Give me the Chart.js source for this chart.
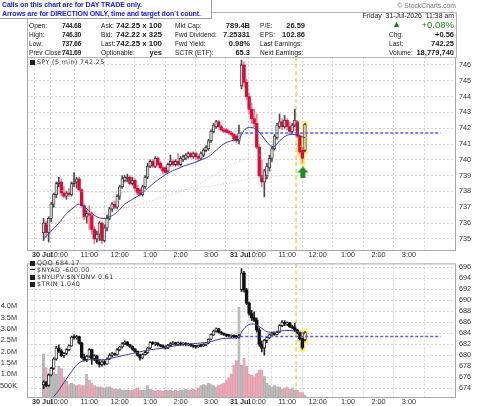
<!DOCTYPE html>
<html>
<head>
<meta charset="utf-8">
<script src="https://cdn.jsdelivr.net/npm/chart.js@4.4.1/dist/chart.umd.min.js"></script>
<style>
body { margin: 0; width: 480px; height: 406px; overflow: hidden; background: #fff; position: relative;
       font-family: "Liberation Sans", Arial, sans-serif; }
canvas { position: absolute; left: 0; }
#topChart { top: 0; }
#botChart { top: 256px; }
.t { position: absolute; font-size: 6.6px; line-height: 9px; color: #222; white-space: nowrap; z-index: 3; }
.v { font-weight: bold; font-size: 7.5px; }
.s { font-size: 6.8px; letter-spacing: -0.3px; }
.w { font-size: 7.9px; }
.r { text-align: right; }
#box { position: absolute; left: 27px; top: 12px; width: 428px; height: 44px; border: 1px solid #b4b4b4; z-index: 1; }
#calls { position: absolute; left: 0; top: 0; width: 209px; height: 18px; background: #fff; border-right: 1px solid #9a9aa8;
         border-bottom: 1px solid #9a9aa8; z-index: 4; color: #1818e6; font-weight: bold; font-size: 7px; line-height: 9px;
         letter-spacing: -0.1px; padding-left: 2px; white-space: nowrap; overflow: hidden; }
.leg { position: absolute; left: 30px; font-family: "DejaVu Sans", sans-serif; font-size: 6.3px; line-height: 7px;
       color: #333; letter-spacing: 0.4px; z-index: 3; white-space: nowrap; }
.ic { display: inline-block; width: 5px; height: 5px; background: #222; margin-right: 2px; vertical-align: -0.5px; }
.ln { display: inline-block; width: 5px; height: 1.5px; background: #222; margin-right: 2px; vertical-align: 2px; }
</style>
</head>
<body>
<div id="calls">Calls on this chart are for DAY TRADE only.<br>Arrows are for DIRECTION ONLY, time and target don`t count.</div>
<div id="box"></div>
<div class="t" style="right:24px;top:1px;font-size:6.8px;color:#777">© StockCharts.com</div>
<div class="t r" style="right:26px;top:11px;font-size:6.9px">Friday&nbsp; 31-Jul-2026&nbsp; 11:38 am</div>

<div class="t" style="left:29px;top:21px">Open:</div><div class="t v s r" style="right:399px;top:21px">744.68</div>
<div class="t" style="left:29px;top:30px">High:</div><div class="t v s r" style="right:399px;top:30px">746.30</div>
<div class="t" style="left:29px;top:39px">Low:</div><div class="t v s r" style="right:399px;top:39px">737.66</div>
<div class="t" style="left:29px;top:48px">Prev Close:</div><div class="t v s r" style="right:399px;top:48px">741.69</div>

<div class="t" style="left:101px;top:21px">Ask:</div><div class="t v w r" style="right:318px;top:21px">742.25 x 100</div>
<div class="t" style="left:101px;top:30px">Bid:</div><div class="t v w r" style="right:318px;top:30px">742.22 x 325</div>
<div class="t" style="left:101px;top:39px">Last:</div><div class="t v w r" style="right:318px;top:39px">742.25 x 100</div>
<div class="t" style="left:101px;top:48px">Optionable:</div><div class="t v r" style="right:318px;top:48px">yes</div>

<div class="t" style="left:175px;top:21px">Mkt Cap:</div><div class="t v r" style="right:230px;top:21px">789.4B</div>
<div class="t" style="left:175px;top:30px">Fwd Dividend:</div><div class="t v r" style="right:230px;top:30px">7.25331</div>
<div class="t" style="left:175px;top:39px">Fwd Yield:</div><div class="t v r" style="right:230px;top:39px">0.98%</div>
<div class="t" style="left:175px;top:48px">SCTR (ETF):</div><div class="t v r" style="right:230px;top:48px">65.3</div>

<div class="t" style="left:260px;top:21px">P/E:</div><div class="t v r" style="right:175px;top:21px">26.59</div>
<div class="t" style="left:260px;top:30px">EPS:</div><div class="t v r" style="right:175px;top:30px">102.86</div>
<div class="t" style="left:260px;top:39px">Last Earnings:</div>
<div class="t" style="left:260px;top:48px">Next Earnings:</div>

<div class="t" style="left:392px;top:20px;color:#1a7a1a;font-size:9px">▲</div>
<div class="t r" style="right:26px;top:20px;color:#1a8a1a;font-size:9.5px;line-height:10px">+0.08%</div>
<div class="t" style="left:389px;top:30px">Chg:</div><div class="t v r" style="right:26px;top:30px">+0.56</div>
<div class="t" style="left:389px;top:39px">Last:</div><div class="t v r" style="right:26px;top:39px">742.25</div>
<div class="t" style="left:389px;top:48px">Volume:</div><div class="t v r" style="right:26px;top:48px">18,779,740</div>

<div class="leg" style="top:58px"><span class="ic"></span>SPY (5 min) 742.25</div>
<div class="leg" style="top:259px"><span class="ic"></span>QQQ 684.17</div>
<div class="leg" style="top:266px"><span class="ln"></span>$NYAD -600.00</div>
<div class="leg" style="top:273px"><span class="ic"></span>$NYUPV:$NYDNV 0.61</div>
<div class="leg" style="top:280px"><span class="ic"></span>$TRIN 1.040</div>

<canvas id="topChart" width="480" height="262"></canvas>
<canvas id="botChart" width="480" height="150"></canvas>

<script>
// 5-minute bars, 30 Jul 9:30 .. 31 Jul 11:35 (bar index 0 = 30 Jul 9:30, 78 = 31 Jul 9:30)
const spyOpen = [735.4,736.0,735.4,736.3,737.2,737.8,738.5,738.6,737.9,737.7,
  737.9,737.8,738.5,738.6,738.8,738.1,737.1,736.4,736.6,736.5,
  735.6,735.0,735.3,736.0,734.9,735.7,736.3,736.9,737.2,737.0,
  737.7,738.3,738.7,738.8,738.9,738.5,738.7,738.2,738.1,737.8,
  738.3,738.9,739.6,739.9,739.6,740.1,739.8,739.5,739.5,739.3,
  739.7,739.9,739.7,739.9,739.7,740.0,740.1,740.2,740.4,740.2,
  740.4,740.2,740.1,740.3,740.6,740.7,741.2,741.8,742.1,742.4,
  742.1,741.9,741.9,741.8,741.7,741.6,741.5,741.2,
  744.68,746.0,744.9,744.0,743.2,742.6,742.3,740.8,739.0,738.6,
  739.0,739.5,740.1,740.7,741.4,742.1,742.4,742.1,742.5,742.1,
  741.8,742.2,742.4,741.5,740.6,740.6];
const spyHigh = [736.3,736.1,736.4,737.3,737.9,738.6,738.9,738.8,738.3,738.0,
  738.2,738.6,739.2,738.9,738.9,738.2,737.2,736.8,737.1,736.7,
  735.8,735.5,736.1,736.1,735.9,736.5,737.0,737.3,737.4,737.8,
  738.4,739.0,739.0,739.1,739.0,738.9,738.8,738.4,738.2,738.4,
  739.0,739.8,740.0,740.0,740.2,740.2,739.9,739.6,739.6,739.8,
  740.3,740.0,740.0,740.4,740.2,740.3,740.4,740.5,740.5,740.5,
  740.5,740.3,740.5,740.7,740.9,741.3,741.9,742.3,742.5,742.5,
  742.2,742.0,742.0,741.9,741.8,741.7,741.6,742.2,
  746.30,746.2,745.1,744.2,743.6,743.2,742.9,741.0,740.0,739.4,
  739.8,740.3,740.8,741.6,742.3,742.9,742.6,742.8,742.6,742.4,
  742.3,743.2,742.5,741.6,740.8,742.3];
const spyLow = [734.9,735.1,734.8,736.1,737.0,737.6,738.3,737.7,737.6,737.5,
  737.7,737.7,738.3,738.2,738.0,737.0,736.2,736.0,735.6,735.3,
  734.7,734.8,734.9,734.7,734.8,735.5,736.2,736.7,736.9,736.9,
  737.5,738.2,738.6,738.6,738.4,738.4,738.0,737.8,737.7,737.7,
  738.2,738.8,739.5,739.5,739.5,739.6,739.4,739.1,739.1,739.2,
  739.6,739.6,739.6,739.6,739.6,739.9,740.0,740.1,740.1,740.1,
  740.0,739.9,740.0,740.2,740.5,740.6,741.1,741.7,742.0,742.0,
  741.8,741.7,741.7,741.6,741.5,741.2,741.1,741.0,
  744.5,744.6,743.8,742.9,742.3,742.1,740.7,738.9,738.3,737.66,
  738.8,739.3,739.9,740.6,741.3,742.0,741.9,742.0,741.9,741.6,
  741.7,742.1,741.4,740.4,739.8,740.5];
const spyClose = [736.0,735.4,736.3,737.2,737.8,738.5,738.6,737.9,737.7,737.9,
  737.8,738.5,738.6,738.8,738.1,737.1,736.4,736.6,736.5,735.6,
  735.0,735.3,736.0,734.9,735.7,736.3,736.9,737.2,737.0,737.7,
  738.3,738.8,738.9,738.9,738.5,738.7,738.2,737.9,737.8,738.3,
  738.9,739.6,739.9,739.6,740.1,739.7,739.5,739.3,739.2,739.7,
  739.9,739.7,739.9,739.7,740.1,740.2,740.3,740.4,740.2,740.4,
  740.2,740.1,740.4,740.6,740.8,741.2,741.8,742.2,742.4,742.1,
  741.9,741.8,741.75,741.7,741.6,741.3,741.2,741.69,
  746.0,744.9,744.0,743.2,742.6,742.3,740.8,739.0,738.6,739.3,
  739.6,740.1,740.7,741.5,742.2,742.4,742.1,742.5,742.1,741.8,
  742.2,742.5,741.5,740.5,740.1,742.25];

const qqqOpen = [674.6,675.1,674.5,676.4,677.6,679.3,681.3,680.8,679.9,680.3,
  681.0,681.7,683.3,683.2,683.4,682.2,679.6,679.2,679.8,681.0,
  679.4,679.9,678.7,678.3,678.8,678.4,679.3,680.0,680.2,680.1,
  681.0,681.5,682.1,682.4,681.9,681.6,681.1,680.7,680.0,679.5,
  680.1,680.5,681.3,682.3,682.1,682.2,681.9,681.7,681.5,681.3,
  681.8,682.1,682.3,682.0,682.2,682.0,682.1,681.9,682.0,681.8,
  681.6,681.5,681.8,681.7,682.0,682.2,682.9,683.7,684.4,684.8,
  684.2,684.0,683.8,683.6,683.5,683.6,683.4,683.3,
  692.0,695.0,691.9,689.5,687.6,686.8,686.4,684.6,682.0,681.3,
  682.7,683.2,683.7,684.0,683.8,684.2,685.4,686.0,685.7,685.9,
  685.2,685.0,684.6,684.1,683.0,682.8];
const qqqHigh = [675.3,675.2,676.6,677.8,679.5,681.6,681.9,681.0,680.5,681.2,
  681.9,683.5,683.7,683.6,683.5,682.4,680.2,680.0,681.2,681.1,
  680.1,680.0,679.2,679.0,679.0,679.5,680.3,680.5,680.4,681.2,
  681.6,682.3,682.6,682.5,682.0,681.7,681.2,680.8,680.2,680.3,
  680.7,681.5,682.5,682.5,682.4,682.3,682.0,681.9,681.7,682.0,
  682.3,682.5,682.4,682.4,682.4,682.3,682.3,682.2,682.1,681.9,
  681.8,681.9,682.0,682.1,682.3,683.0,683.9,684.6,685.0,684.9,
  684.3,684.1,683.9,683.8,683.7,683.7,683.6,683.8,
  695.8,695.3,692.2,689.7,688.2,687.9,686.8,685.0,682.6,682.9,
  683.4,683.9,684.2,684.2,684.4,685.6,686.3,686.3,686.1,686.0,
  685.5,685.8,684.7,684.2,683.1,684.3];
const qqqLow = [673.9,674.2,674.3,676.2,677.4,679.1,680.5,679.7,679.6,680.1,
  680.8,681.6,682.9,682.9,682.0,679.4,678.9,678.8,679.6,678.3,
  679.0,678.4,677.8,678.0,678.2,678.3,679.2,679.7,679.9,680.0,
  680.8,681.3,681.9,681.7,681.4,680.9,680.5,679.8,679.1,679.3,
  680.0,680.3,681.2,681.9,681.8,681.7,681.5,681.3,681.1,681.2,
  681.6,681.9,681.8,681.8,681.8,681.8,681.7,681.7,681.6,681.4,
  681.3,681.4,681.5,681.6,681.8,682.1,682.8,683.6,684.2,684.0,
  683.8,683.6,683.4,683.3,683.2,683.2,683.0,683.1,
  691.6,691.5,689.2,687.3,686.3,686.1,684.2,681.6,680.6,680.0,
  682.3,683.0,683.5,683.6,683.7,684.1,685.2,685.4,685.4,685.0,
  684.8,684.3,683.9,682.8,681.1,682.6];
const qqqClose = [675.1,674.5,676.4,677.6,679.3,681.3,680.8,679.9,680.3,681.0,
  681.7,683.3,683.2,683.4,682.2,679.6,679.2,679.8,681.0,679.4,
  679.9,678.7,678.3,678.8,678.4,679.3,680.0,680.2,680.1,681.0,
  681.5,682.1,682.4,681.9,681.6,681.1,680.7,680.0,679.5,680.1,
  680.5,681.3,682.3,682.1,682.2,681.9,681.7,681.5,681.3,681.8,
  682.1,682.3,682.0,682.2,682.0,682.1,681.9,682.0,681.8,681.6,
  681.5,681.8,681.7,682.0,682.2,682.9,683.7,684.4,684.8,684.2,
  684.0,683.8,683.6,683.5,683.6,683.4,683.3,683.4,
  695.0,691.9,689.5,687.6,686.8,686.4,684.6,682.0,681.3,682.7,
  683.2,683.7,684.0,683.8,684.2,685.4,686.0,685.7,685.9,685.2,
  685.0,684.6,684.1,683.0,681.4,684.17];

// SPY volume, millions of shares
const volume = [1.9,1.3,1.0,1.3,1.1,1.0,1.35,1.25,0.85,0.7,
  0.55,0.6,0.55,0.5,0.55,0.5,0.5,1.0,0.75,0.6,
  0.5,0.45,0.45,0.45,0.4,0.45,0.45,0.4,0.35,0.33,
  0.35,0.3,0.3,0.3,0.28,0.3,0.35,0.4,0.3,0.3,
  0.28,0.5,0.35,0.3,0.25,0.3,0.28,0.25,0.3,0.28,
  0.3,0.25,0.3,0.25,0.3,0.3,0.35,0.3,0.3,0.35,
  0.3,0.4,0.5,0.55,0.5,0.6,0.55,0.5,0.45,0.5,
  0.55,0.6,0.75,0.85,1.0,1.4,1.6,3.95,
  1.4,1.7,1.35,1.0,0.95,0.9,1.05,1.2,1.2,0.9,
  0.6,0.5,0.45,0.5,0.45,0.45,0.35,0.4,0.45,0.35,
  0.4,0.3,0.3,0.2,0.2,0.08];

// moving averages at these bars
const spyMaBars = [0,3,6,9,12,14,17,20,23,26,29,32,35,38,41,44,47,50,53,56,59,62,65,68,71,74,77,
  78,80,83,86,89,91,93,96,99,101,103];
const spyMaFast = [735.0,735.5,736.0,736.6,737.0,737.2,736.9,736.5,736.3,736.4,736.7,737.2,737.5,737.8,738.2,738.6,738.95,739.25,739.45,739.65,739.8,740.0,740.2,740.6,741.0,741.2,741.3,
  741.6,742.0,742.0,741.55,740.95,740.85,741.2,741.55,741.6,741.5,741.4];
const spyMidBars = [0,10,20,28,40,50,59,68,77,84,90,97,103];
const spyMaMid = [735.9,736.2,736.5,736.8,737.3,737.8,738.3,739.1,739.9,740.25,740.5,740.75,740.9];
const spySlowBars = [0,26,50,60,77,85,103];
const spyMaSlow = [738.1,737.95,738.05,738.2,738.65,738.9,739.05];

const qqqMaBars = [3,5,8,11,14,17,20,24,29,35,41,47,53,59,65,70,77,78,80,82,84,86,88,91,93,97,100,103];
const qqqMa = [672.0,673.0,675.0,677.0,678.6,679.1,679.2,679.2,679.7,680.3,680.9,681.3,681.8,682.1,682.4,683.0,683.3,
  684.2,685.3,685.7,685.5,684.9,684.3,684.2,684.4,684.5,684.3,683.9];

const spyPrevClose = 741.69;
const qqqPrevClose = 683.4;
const day2Start = 77.5;
const eventBar = 99.5;
const highlightBars = [101, 102, 103];
const arrowBar = 102.2, arrowPrice = 739.2;

const tickBars = [-0.5, 6, 18, 30, 42, 54, 66, 77.5, 84, 96, 108, 120, 132, 144];
const tickText = ['30 Jul', '10:00', '11:00', '12:00', '1:00', '2:00', '3:00', '31 Jul', '10:00', '11:00', '12:00', '1:00', '2:00', '3:00'];
const spyTicks = [735, 736, 737, 738, 739, 740, 741, 742, 743, 744, 745, 746];
const qqqTicks = [674, 676, 678, 680, 682, 684, 686, 688, 690, 692, 694, 696];
const volTicks = [0.5, 1.0, 1.5, 2.0, 2.5, 3.0, 3.5, 4.0];
const volTickText = ['500K', '1.0M', '1.5M', '2.0M', '2.5M', '3.0M', '3.5M', '4.0M'];

const X_MIN = -0.5, X_MAX = 156.5;
const bars = spyClose.map((_, i) => i);
const GRID = '#d6d6d6';

function candles(o, h, l, c, yAxisID, st) {
  const up = i => c[i] >= o[i];
  return [
    { type: 'bar', yAxisID, order: 6, grouped: false, barThickness: 5,
      data: highlightBars.map(i => ({ x: i, y: [l[i] - st.hlPad, h[i] + st.hlPad] })),
      backgroundColor: 'rgba(255,234,70,0.8)' },
    { type: 'bar', yAxisID, order: 4, grouped: false, barThickness: 1,
      data: bars.map(i => ({ x: i, y: [l[i], h[i]] })),
      backgroundColor: ctx => up(ctx.dataIndex) ? st.upWick : st.dnWick },
    { type: 'bar', yAxisID, order: 3, grouped: false, barThickness: 2.7, minBarLength: 1,
      borderSkipped: false,
      data: bars.map(i => ({ x: i, y: [o[i], c[i]] })),
      backgroundColor: ctx => up(ctx.dataIndex) ? st.upFill : st.dnFill,
      borderColor: ctx => up(ctx.dataIndex) ? st.upLine : st.dnFill,
      borderWidth: ctx => up(ctx.dataIndex) ? 0.8 : 0 }
  ];
}

function maLine(xs, ys, yAxisID, color, dash, width) {
  return { type: 'line', yAxisID, order: 1, data: xs.map((b, k) => ({ x: b, y: ys[k] })),
    borderColor: color, borderWidth: width, borderDash: dash, pointRadius: 0, tension: 0.4 };
}

function xScale(axisHeight) {
  return {
    type: 'linear', min: X_MIN, max: X_MAX,
    afterBuildTicks: s => { s.ticks = tickBars.map(v => ({ value: v })); },
    afterFit: s => { s.height = axisHeight; },
    ticks: { autoSkip: false, maxRotation: 0, padding: 1, color: '#333',
      callback: (v, i) => tickText[i],
      font: ctx => ({ family: 'Liberation Sans', size: 7.3,
        weight: (ctx.tick && String(ctx.tick.label).includes('Jul')) ? 'bold' : 'normal' }) },
    grid: { color: GRID, drawTicks: false },
    border: { display: false, dash: [2, 2] }
  };
}

const frame = {
  id: 'frame',
  beforeDatasetsDraw(chart) {
    const { ctx, chartArea: a, scales: { x } } = chart;
    const px = x.getPixelForValue(eventBar);
    ctx.save();
    ctx.strokeStyle = '#f4b400';
    ctx.lineWidth = 1;
    ctx.setLineDash([4, 3]);
    ctx.beginPath(); ctx.moveTo(px, a.top); ctx.lineTo(px, a.bottom); ctx.stroke();
    ctx.restore();
  },
  afterDraw(chart) {
    const { ctx, chartArea: a } = chart;
    ctx.save();
    ctx.strokeStyle = '#a8a8a8';
    ctx.lineWidth = 1;
    ctx.strokeRect(a.left + 0.5, a.top + 0.5, a.right - a.left - 1, a.bottom - a.top);
    ctx.restore();
  }
};

// green up-arrow marker
const arrow = document.createElement('canvas');
arrow.width = 11; arrow.height = 12;
(() => {
  const g = arrow.getContext('2d');
  g.fillStyle = '#1e8c1e';
  g.beginPath(); g.moveTo(5.5, 0); g.lineTo(11, 6); g.lineTo(0, 6); g.closePath(); g.fill();
  g.fillRect(3, 6, 5, 6);
})();

const common = {
  responsive: false, animation: false, devicePixelRatio: 1,
  plugins: { legend: { display: false }, tooltip: { enabled: false } }
};

new Chart(document.getElementById('topChart'), {
  data: {
    datasets: [
      ...candles(spyOpen, spyHigh, spyLow, spyClose, 'y',
        { upFill: '#d4d4d4', upLine: '#303030', upWick: '#4a4a4a', dnFill: '#dc0c3a', dnWick: '#ee7c94', hlPad: 0.12 }),
      maLine(spyMaBars, spyMaFast, 'y', '#3a3aa6', [], 1),
      maLine(spyMidBars, spyMaMid, 'y', '#f2a8b8', [1, 2], 1),
      maLine(spySlowBars, spyMaSlow, 'y', '#bccabc', [1, 2], 1),
      { type: 'line', yAxisID: 'y', order: 2, data: [{ x: day2Start, y: spyPrevClose }, { x: X_MAX, y: spyPrevClose }],
        borderColor: '#5a5aff', borderWidth: 1.5, borderDash: [3, 2], pointRadius: 0 },
      { type: 'scatter', yAxisID: 'y', order: 0, data: [{ x: arrowBar, y: arrowPrice }], pointStyle: arrow, pointRadius: 6 }
    ]
  },
  options: {
    ...common,
    layout: { padding: { left: 27, top: 57, right: 0, bottom: 0 } },
    scales: {
      x: xScale(12),
      y: { position: 'right', min: 734.3, max: 746.5,
        afterBuildTicks: s => { s.ticks = spyTicks.map(v => ({ value: v })); },
        afterFit: s => { s.width = 24; },
        ticks: { color: '#333', padding: 3, font: { family: 'Liberation Sans', size: 7.3 } },
        grid: { color: GRID, drawTicks: false },
        border: { display: false, dash: [2, 2] } }
    }
  },
  plugins: [frame]
});

new Chart(document.getElementById('botChart'), {
  data: {
    datasets: [
      { type: 'bar', yAxisID: 'yv', order: 8, grouped: false, barThickness: 2.4,
        data: bars.map(i => ({ x: i, y: volume[i] })),
        backgroundColor: bars.map(i => spyClose[i] >= spyOpen[i] ? '#bcbcbc' : '#eba9b6'),
        borderColor: bars.map(i => spyClose[i] >= spyOpen[i] ? '#a4a4a4' : '#dc90a0'),
        borderWidth: 0.5 },
      ...candles(qqqOpen, qqqHigh, qqqLow, qqqClose, 'yq',
        { upFill: '#f4f4f4', upLine: '#111', upWick: '#222', dnFill: '#111', dnWick: '#222', hlPad: 0.4 }),
      maLine(qqqMaBars, qqqMa, 'yq', '#3a3aa6', [], 1),
      { type: 'line', yAxisID: 'yq', order: 2, data: [{ x: day2Start, y: qqqPrevClose }, { x: X_MAX, y: qqqPrevClose }],
        borderColor: '#5a5aff', borderWidth: 1.5, borderDash: [3, 2], pointRadius: 0 }
    ]
  },
  options: {
    ...common,
    layout: { padding: { left: 0, top: 2, right: 0, bottom: 0 } },
    scales: {
      x: xScale(9),
      yv: { position: 'left', min: 0, max: 5.89,
        afterBuildTicks: s => { s.ticks = volTicks.map(v => ({ value: v })); },
        afterFit: s => { s.width = 27; },
        ticks: { color: '#333', padding: 2, callback: (v, i) => volTickText[i],
          font: { family: 'Liberation Sans', size: 7.3 } },
        grid: { display: false },
        border: { display: false } },
      yq: { position: 'right', min: 672.37, max: 696.75,
        afterBuildTicks: s => { s.ticks = qqqTicks.map(v => ({ value: v })); },
        afterFit: s => { s.width = 24; },
        ticks: { color: '#333', padding: 3, font: { family: 'Liberation Sans', size: 7.3 } },
        grid: { color: GRID, drawTicks: false },
        border: { display: false, dash: [2, 2] } }
    }
  },
  plugins: [frame]
});
</script>
</body>
</html>
